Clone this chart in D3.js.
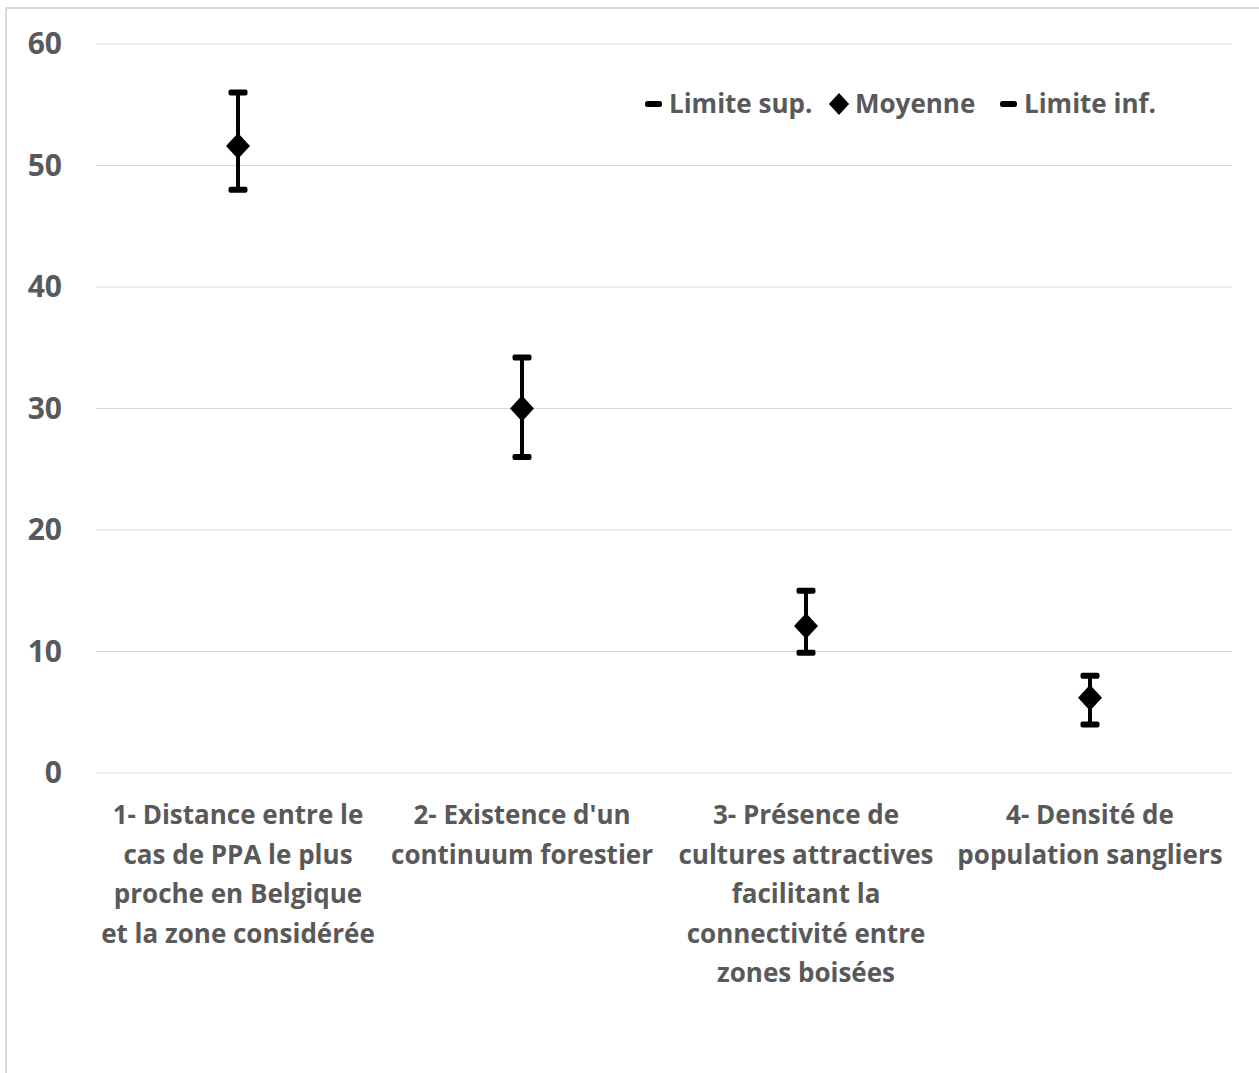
<!DOCTYPE html>
<html>
<head>
<meta charset="utf-8">
<script src="https://cdn.jsdelivr.net/npm/d3@7"></script>
<style>
  body { margin: 0; background: #fff; }
  svg { display: block; }
</style>
</head>
<body>
<svg id="chart"></svg>
<script>
// values
const categories = ['c1', 'c2', 'c3', 'c4'];
const categoryLabels = [
  ['1- Distance entre le', 'cas de PPA le plus', 'proche en Belgique', 'et la zone considérée'],
  ["2- Existence d'un", 'continuum forestier'],
  ['3- Présence de', 'cultures attractives', 'facilitant la', 'connectivité entre', 'zones boisées'],
  ['4- Densité de', 'population sangliers']
];
const upper = [56, 34.2, 15, 8];
const mean = [51.6, 30, 12.1, 6.2];
const lower = [48, 26, 9.9, 4];
const yTicks = [0, 10, 20, 30, 40, 50, 60];
const legendLabels = ['Limite sup.', 'Moyenne', 'Limite inf.'];

const W = 1259, H = 1073;
const margin = {top: 44, left: 96, right: 27, bottom: 300};
const textColor = '#595959';
const font = '"Open Sans", sans-serif';

const svg = d3.select('#chart').attr('width', W).attr('height', H);

// chart border
svg.append('rect')
  .attr('x', 6).attr('y', 8)
  .attr('width', W + 10).attr('height', H + 10)
  .attr('fill', 'none').attr('stroke', '#d9d9d9').attr('stroke-width', 2);

const x = d3.scaleBand().domain(categories).range([margin.left, W - margin.right]);
const y = d3.scaleLinear().domain([0, 60]).range([H - margin.bottom + 0, margin.top]);

// grid
svg.append('g')
  .selectAll('line')
  .data(yTicks)
  .join('line')
    .attr('x1', margin.left).attr('x2', W - margin.right)
    .attr('y1', d => y(d)).attr('y2', d => y(d))
    .attr('stroke', '#d9d9d9').attr('stroke-width', 1);

// y axis labels
const yAxis = svg.append('g')
  .attr('transform', `translate(${margin.left - 34},0)`)
  .call(d3.axisLeft(y).tickValues(yTicks).tickSize(0).tickPadding(0));
yAxis.select('.domain').remove();
yAxis.selectAll('text')
  .attr('fill', textColor)
  .attr('font-family', font)
  .attr('font-weight', 'bold')
  .attr('font-size', 30);

// category labels
const xl = svg.append('g')
  .selectAll('text')
  .data(categories)
  .join('text')
    .attr('x', d => x(d) + x.bandwidth() / 2)
    .attr('y', y(0) + 51)
    .attr('text-anchor', 'middle')
    .attr('fill', textColor)
    .attr('font-family', font)
    .attr('font-weight', 'bold')
    .attr('font-size', 26);
xl.selectAll('tspan')
  .data((d, i) => categoryLabels[i])
  .join('tspan')
    .attr('x', function() { return this.parentNode.getAttribute('x'); })
    .attr('dy', (d, i) => i === 0 ? 0 : 39.5)
    .text(d => d);

// error bars
const cx = i => x(categories[i]) + x.bandwidth() / 2;
const bars = svg.append('g');
bars.selectAll('line.whisker')
  .data(categories)
  .join('line')
    .attr('class', 'whisker')
    .attr('x1', (d, i) => cx(i)).attr('x2', (d, i) => cx(i))
    .attr('y1', (d, i) => y(upper[i])).attr('y2', (d, i) => y(lower[i]))
    .attr('stroke', '#000').attr('stroke-width', 4);

const capW = 19, capH = 6;
[upper, lower].forEach(arr => {
  bars.append('g').selectAll('rect')
    .data(categories)
    .join('rect')
      .attr('x', (d, i) => cx(i) - capW / 2)
      .attr('y', (d, i) => y(arr[i]) - capH / 2)
      .attr('width', capW).attr('height', capH)
      .attr('rx', 2)
      .attr('fill', '#000');
});

const diamond = (px, py, r) => `M${px},${py - r}L${px + r * 0.92},${py}L${px},${py + r}L${px - r * 0.92},${py}Z`;
bars.append('g').selectAll('path')
  .data(categories)
  .join('path')
    .attr('d', (d, i) => diamond(cx(i), y(mean[i]), 13))
    .attr('fill', '#000');

// legend
const legend = svg.append('g').attr('font-family', font).attr('font-weight', 'bold')
  .attr('font-size', 26).attr('fill', textColor);
const legendX = [645, 828, 1000];
const ly = 104;
legendLabels.forEach((lab, i) => {
  if (i === 1) {
    legend.append('path').attr('d', diamond(legendX[i] + 11, ly, 11)).attr('fill', '#000');
    legend.append('text').attr('x', legendX[i] + 27).attr('y', ly).attr('dy', '0.35em').text(lab);
  } else {
    legend.append('rect').attr('x', legendX[i]).attr('y', ly - 3)
      .attr('width', 17).attr('height', 6).attr('rx', 2.5).attr('fill', '#000');
    legend.append('text').attr('x', legendX[i] + 24).attr('y', ly).attr('dy', '0.35em').text(lab);
  }
});
</script>
</body>
</html>
